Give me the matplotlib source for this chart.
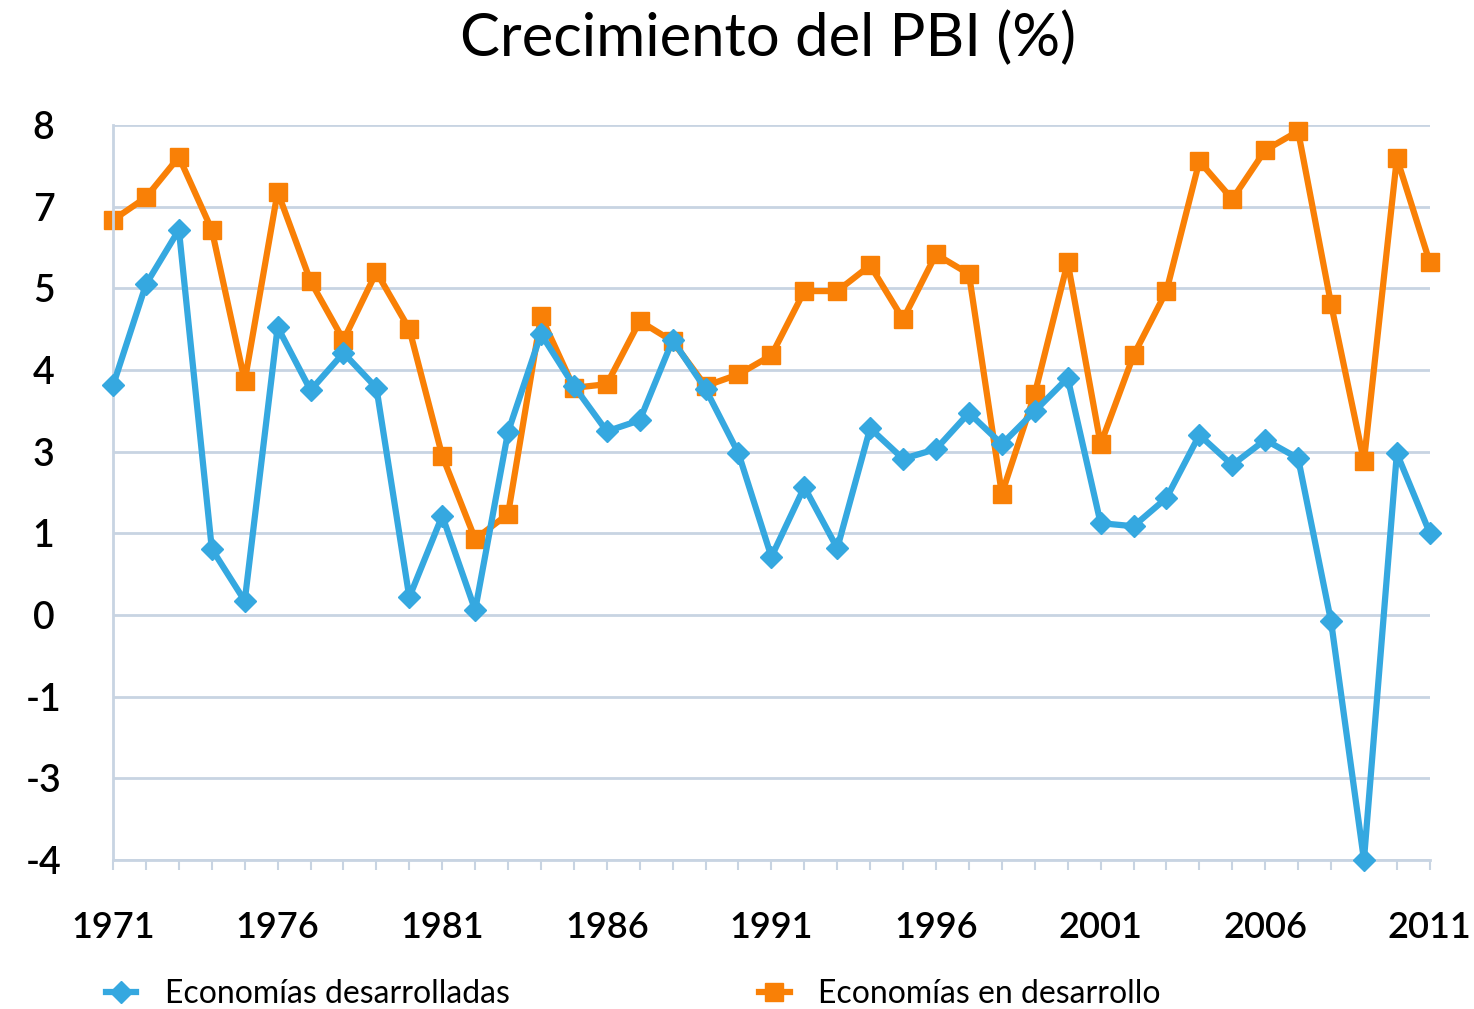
import numpy as np
import matplotlib
matplotlib.use("Agg")
from matplotlib import pyplot as plt

plt.rcParams['font.family'] = ['Lato', 'DejaVu Sans']

years = list(range(1971, 2012))

# Economías desarrolladas
desarrolladas = [3.75, 5.40, 6.29, 1.08, 0.23, 4.70, 3.67, 4.28, 3.71, 0.29,
                 1.62, 0.08, 2.99, 4.59, 3.74, 3.00, 3.18, 4.49, 3.69, 2.64,
                 0.95, 2.09, 1.09, 3.05, 2.55, 2.71, 3.30, 2.79, 3.33, 3.87,
                 1.50, 1.45, 1.91, 2.94, 2.45, 2.86, 2.56, -0.10, -4.00, 2.64,
                 1.34]

# Economías en desarrollo
en_desarrollo = [6.45, 6.82, 7.48, 6.29, 3.82, 6.91, 5.45, 4.49, 5.60, 4.67,
                 2.60, 1.24, 1.65, 4.88, 3.71, 3.77, 4.80, 4.47, 3.74, 3.93,
                 4.24, 5.29, 5.29, 5.71, 4.83, 5.89, 5.57, 1.98, 3.61, 5.76,
                 2.79, 4.24, 5.29, 7.41, 6.79, 7.59, 7.90, 5.08, 2.51, 7.46,
                 5.76]

label_years = [1971, 1976, 1981, 1986, 1991, 1996, 2001, 2006, 2011]

blue = '#35a8e0'
orange = '#f98006'
grid_col = '#c8d4e2'

fig = plt.figure(figsize=(14.74, 10.09), dpi=100)
ax = fig.add_axes([0.0767, 0.1477, 0.8933, 0.7283])

ax.plot(years, desarrolladas, color=blue, lw=4.5, marker='D', ms=11,
        label='Economías desarrolladas', zorder=3, clip_on=False)
ax.plot(years, en_desarrollo, color=orange, lw=4.5, marker='s', ms=13,
        label='Economías en desarrollo', zorder=2, clip_on=False)

ax.set_xlim(1971, 2011)
ax.set_ylim(-4, 8)

# y ticks: 10 evenly spaced values shown rounded
yt = np.linspace(-4, 8, 10)
ax.set_yticks(yt)
ax.set_yticklabels(['%d' % round(v) for v in yt])
ax.yaxis.grid(True, color=grid_col, lw=2)
ax.set_axisbelow(True)

ax.set_xticks(years, minor=True)
ax.set_xticks(label_years)
ax.set_xticklabels([str(y) for y in label_years])

for s in ['top', 'right']:
    ax.spines[s].set_visible(False)
ax.spines['left'].set_color(grid_col)
ax.spines['bottom'].set_color(grid_col)
ax.spines['left'].set_linewidth(2)
ax.spines['bottom'].set_linewidth(2)

ax.tick_params(axis='y', length=0, labelsize=27, pad=50)
for lab in ax.get_yticklabels():
    lab.set_horizontalalignment('center')
    lab.set_fontweight('semibold')
ax.tick_params(axis='x', which='both', length=7, width=1.5, color=grid_col,
               labelsize=26, pad=30)
for lab in ax.get_xticklabels():
    lab.set_fontweight('semibold')

fig.text(0.521, 0.962, 'Crecimiento del PBI (%)', fontsize=43,
         ha='center', va='center')

ax.legend(loc='center left', bbox_to_anchor=(-0.015, -0.182), ncol=2,
          frameon=False, fontsize=23, columnspacing=7.8, handlelength=0.95,
          handletextpad=0.9, borderaxespad=0)

fig.savefig('out.png', dpi=100)
